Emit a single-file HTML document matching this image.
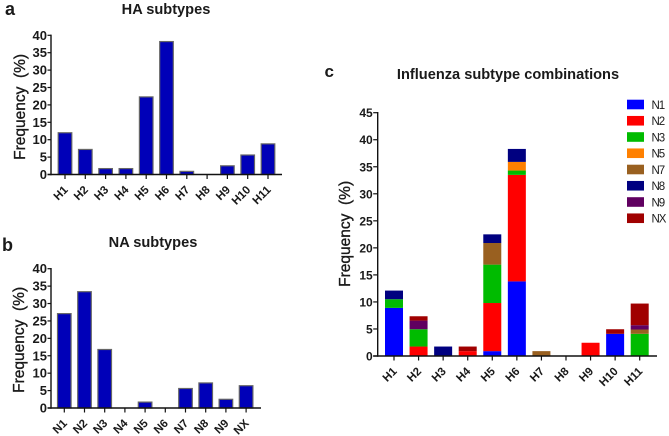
<!DOCTYPE html>
<html>
<head>
<meta charset="utf-8">
<style>
html,body{margin:0;padding:0;background:#fff;}
svg{display:block;font-family:"Liberation Sans",sans-serif;filter:blur(0.3px);}
text{fill:#1a1a1a;}
</style>
</head>
<body>
<svg id="fig" xmlns="http://www.w3.org/2000/svg" width="669" height="436" viewBox="0 0 669 436"></svg>
<script>
var haCategories = ['H1','H2','H3','H4','H5','H6','H7','H8','H9','H10','H11'];
var haValues = [12, 7.2, 1.7, 1.7, 22.3, 38.2, 0.9, 0, 2.5, 5.6, 8.8];
var naCategories = ['N1','N2','N3','N4','N5','N6','N7','N8','N9','NX'];
var naValues = [27.1, 33.4, 16.8, 0, 1.7, 0, 5.6, 7.2, 2.5, 6.4];
var simpleTicks = [0,5,10,15,20,25,30,35,40];
var comboTicks = [0,5,10,15,20,25,30,35,40,45];
var comboSeriesNames = ['N1','N2','N3','N5','N7','N8','N9','NX'];
var comboColors = ['#0000ff','#ff0000','#00bb00','#ff8000','#996020','#000080','#600060','#a00000'];
var comboN1 = [8.9, 0, 0, 0, 0.9, 13.8, 0, 0, 0, 4.1, 0];
var comboN2 = [0, 1.75, 0, 0.9, 8.9, 19.7, 0, 0, 2.45, 0, 0];
var comboN3 = [1.6, 3.2, 0, 0, 7.1, 0.8, 0, 0, 0, 0, 4.1];
var comboN5 = [0, 0, 0, 0, 0, 1.6, 0, 0, 0, 0, 0];
var comboN7 = [0, 0, 0, 0, 4, 0, 0.9, 0, 0, 0, 0.8];
var comboN8 = [1.6, 0, 1.75, 0, 1.6, 2.4, 0, 0, 0, 0, 0];
var comboN9 = [0, 1.6, 0, 0, 0, 0, 0, 0, 0, 0, 0.8];
var comboNX = [0, 0.8, 0, 0.85, 0, 0, 0, 0, 0, 0.85, 4];
var comboSeries = [comboN1, comboN2, comboN3, comboN5, comboN7, comboN8, comboN9, comboNX];

var NS = 'http://www.w3.org/2000/svg';
var fig = document.getElementById('fig');
function make(tag, attrs, parent, txt){
  var e = document.createElementNS(NS, tag);
  for (var k in attrs) e.setAttribute(k, attrs[k]);
  if (txt !== undefined) e.textContent = txt;
  (parent || fig).appendChild(e);
  return e;
}
function drawAxes(g, o, ticks, cats){
  var yAxis = make('line',{x1:o.x0,x2:o.x0,y1:o.y(ticks[ticks.length-1])-0.7,y2:o.y(0)+0.7,stroke:'#111','stroke-width':1.4},g);
  
  
  var xAxis = make('line',{x1:o.x0-o.tickLen,x2:o.xEnd,y1:o.y(0),y2:o.y(0),stroke:'#111','stroke-width':1.4},g);
  
  
  ticks.forEach(function(t){
    var mark = make('line',{x1:o.x0-o.tickLen,x2:o.x0,y1:o.y(t),y2:o.y(t),stroke:'#111','stroke-width':1.2},g);
    
    
    var lab = make('text',{x:o.x0-o.tickLen-0.5,y:o.y(t)+4.5,'text-anchor':'end','font-size':o.tickFont,'font-weight':'bold'},g,String(t));
    
    
  });
  cats.forEach(function(c,i){
    var x = o.x(i), y0 = o.y(0);
    var mark = make('line',{x1:x,x2:x,y1:y0,y2:y0+4.5,stroke:'#111','stroke-width':1.2},g);
    
    
    var ax = x+3.5, ay = y0+16;
    var lab = make('text',{x:ax,y:ay,'text-anchor':'end','font-size':11.5,'font-weight':'bold',transform:'rotate(-45 '+ax+' '+ay+')'},g,c);
    
    
  });
  var yMid = (o.y(0)+o.y(ticks[ticks.length-1]))/2 + o.titleShift;
  var yt = make('text',{x:o.titleX,y:yMid,'text-anchor':'middle','font-size':15.5,'stroke':'#1a1a1a','stroke-width':0.35,style:'white-space:pre',transform:'rotate(-90 '+o.titleX+' '+yMid+')'},g,'Frequency  (%)');
  
  
}
function drawSimple(name, cats, vals, o){
  var g = make('g',{});
  
  
  vals.forEach(function(v,i){
    if (v <= 0) return;
    var top = o.y(v), w = 13.6;
    var bar = make('rect',{x:o.x(i)-w/2,y:top,width:w,height:o.y(0)-top,fill:'#0000b8',stroke:'#666','stroke-width':1.2},g);
    
    
  });
  drawAxes(g, o, simpleTicks, cats);
}
function linear(d0,d1,r0,r1){ return function(v){ return r0 + (v-d0)*(r1-r0)/(d1-d0); }; }
function indexScale(first,step){ return function(i){ return first + i*step; }; }

drawSimple('ha-subtypes-chart', haCategories, haValues, {x0:51,xEnd:282,y:linear(0,40,174.5,35.3),x:indexScale(65,20.3),titleX:25,titleShift:2,tickLen:3.5,tickFont:13});
drawSimple('na-subtypes-chart', naCategories, naValues, {x0:51,xEnd:261,y:linear(0,40,408,268.7),x:indexScale(64.3,20.2),titleX:24,titleShift:1.5,tickLen:3.5,tickFont:13});

var comboOpts = {x0:377.7,xEnd:657,y:linear(0,45,356,112.7),x:indexScale(394,24.57),titleX:350,titleShift:-0.5,tickLen:4.5,tickFont:12};
var gc = make('g',{});


haCategories.forEach(function(cat,i){
  var base = 0;
  comboSeries.forEach(function(s,k){
    var v = s[i];
    if (v <= 0) return;
    var yTop = comboOpts.y(base+v), yBot = comboOpts.y(base);
    var seg = make('rect',{x:comboOpts.x(i)-9,y:yTop,width:18,height:yBot-yTop,fill:comboColors[k]},gc);
    
    
    base += v;
  });
});
drawAxes(gc, comboOpts, comboTicks, haCategories);

var legend = make('g',{});


comboSeriesNames.forEach(function(n,k){
  var cy = 104.5 + k*16.25;
  var sw = make('rect',{x:627,y:cy-4.8,width:17,height:9.6,fill:comboColors[k]},legend);
  
  
  var tx = make('text',{x:651.5,y:cy+4.3,'font-size':11.5,'letter-spacing':'-1.1px'},legend,n);
  
  
});

var t1 = make('text',{x:166,y:14,'text-anchor':'middle','font-size':14.6,'font-weight':'bold'},fig,'HA subtypes');


var t2 = make('text',{x:153,y:247,'text-anchor':'middle','font-size':14.6,'font-weight':'bold'},fig,'NA subtypes');


var t3 = make('text',{x:508,y:79,'text-anchor':'middle','font-size':14.6,'font-weight':'bold'},fig,'Influenza subtype combinations');


var pa = make('text',{x:5,y:15,'font-size':18,'font-weight':'bold'},fig,'a');


var pb = make('text',{x:2,y:251,'font-size':18,'font-weight':'bold'},fig,'b');


var pc = make('text',{x:324.5,y:77,'font-size':17,'font-weight':'bold'},fig,'c');


</script>
</body>
</html>
